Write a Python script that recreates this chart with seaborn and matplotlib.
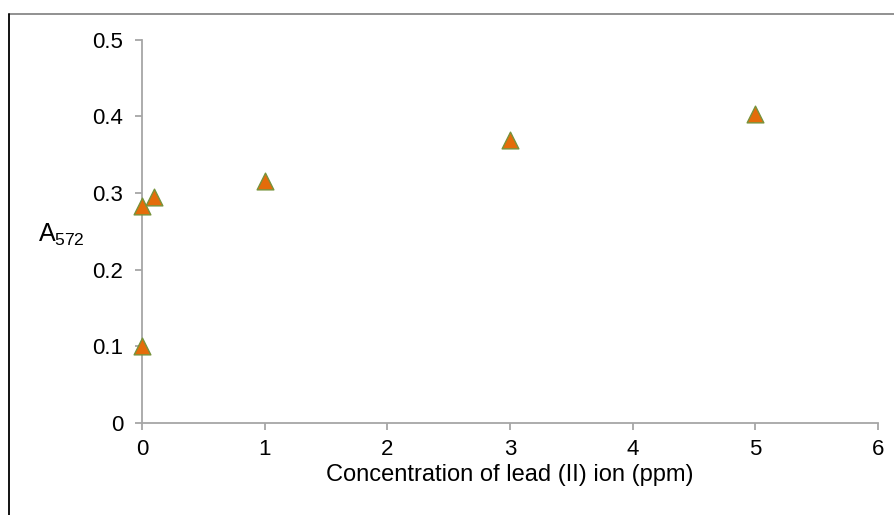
import matplotlib
matplotlib.use("Agg")
import matplotlib.pyplot as plt
import seaborn as sns
import pandas as pd
from matplotlib.lines import Line2D

# Lead (II) ion concentration (ppm) versus absorbance at 572 nm
concentration = [0, 0, 0.1, 1, 3, 5]
absorbance = [0.101, 0.283, 0.295, 0.316, 0.369, 0.403]

x_ticks = [0, 1, 2, 3, 4, 5, 6]
y_ticks = [0, 0.1, 0.2, 0.3, 0.4, 0.5]
y_tick_labels = ["0", "0.1", "0.2", "0.3", "0.4", "0.5"]

sns.set_theme(style="white")
plt.rcParams["font.family"] = ["Liberation Sans", "DejaVu Sans"]
plt.rcParams["mathtext.fontset"] = "custom"
plt.rcParams["mathtext.rm"] = "Liberation Sans"
plt.rcParams["mathtext.it"] = "Liberation Sans:italic"

df = pd.DataFrame({"conc": concentration, "abs": absorbance})

fig = plt.figure(figsize=(8.94, 5.15), dpi=100)
ax = fig.add_axes([0.1588, 0.1786, 0.8233, 0.7447])

sns.scatterplot(data=df, x="conc", y="abs", marker="^", s=145,
                color="#E46C0A", edgecolor="#77933C", linewidth=1.0,
                ax=ax, zorder=3, clip_on=False)

ax.set_xlim(0, 6)
ax.set_ylim(0, 0.5)
ax.set_xticks(x_ticks)
ax.set_xticklabels([str(t) for t in x_ticks])
ax.set_yticks(y_ticks)
ax.set_yticklabels(y_tick_labels)

axis_grey = "#A6A6A6"
for side in ("top", "right"):
    ax.spines[side].set_visible(False)
for side in ("left", "bottom"):
    ax.spines[side].set_color(axis_grey)
    ax.spines[side].set_linewidth(1.3)

ax.tick_params(axis="both", which="major", direction="out", length=5,
               width=1.3, color=axis_grey, labelsize=16, labelcolor="black",
               bottom=True, left=True)
ax.tick_params(axis="x", pad=6.5)
ax.tick_params(axis="y", pad=8.5)

ax.set_xlabel("Concentration of lead (II) ion (ppm)", fontsize=17,
              color="black")
ax.xaxis.set_label_coords(0.5, -0.108)
ax.set_ylabel(r"A$_{\mathrm{572}}$", fontsize=18, color="black", rotation=0)
ax.yaxis.label.set_va("center")
ax.yaxis.set_label_coords(-0.11, 0.49)

# Frame lines around the figure (top and left edges)
fig.add_artist(Line2D([8.5 / 894, 1.0], [1 - 13.5 / 515, 1 - 13.5 / 515],
                      transform=fig.transFigure, color="#888888", lw=1.3))
fig.add_artist(Line2D([8.5 / 894, 8.5 / 894], [0.0, 1 - 13.5 / 515],
                      transform=fig.transFigure, color="black", lw=1.3))

fig.savefig("out.png", dpi=100)
